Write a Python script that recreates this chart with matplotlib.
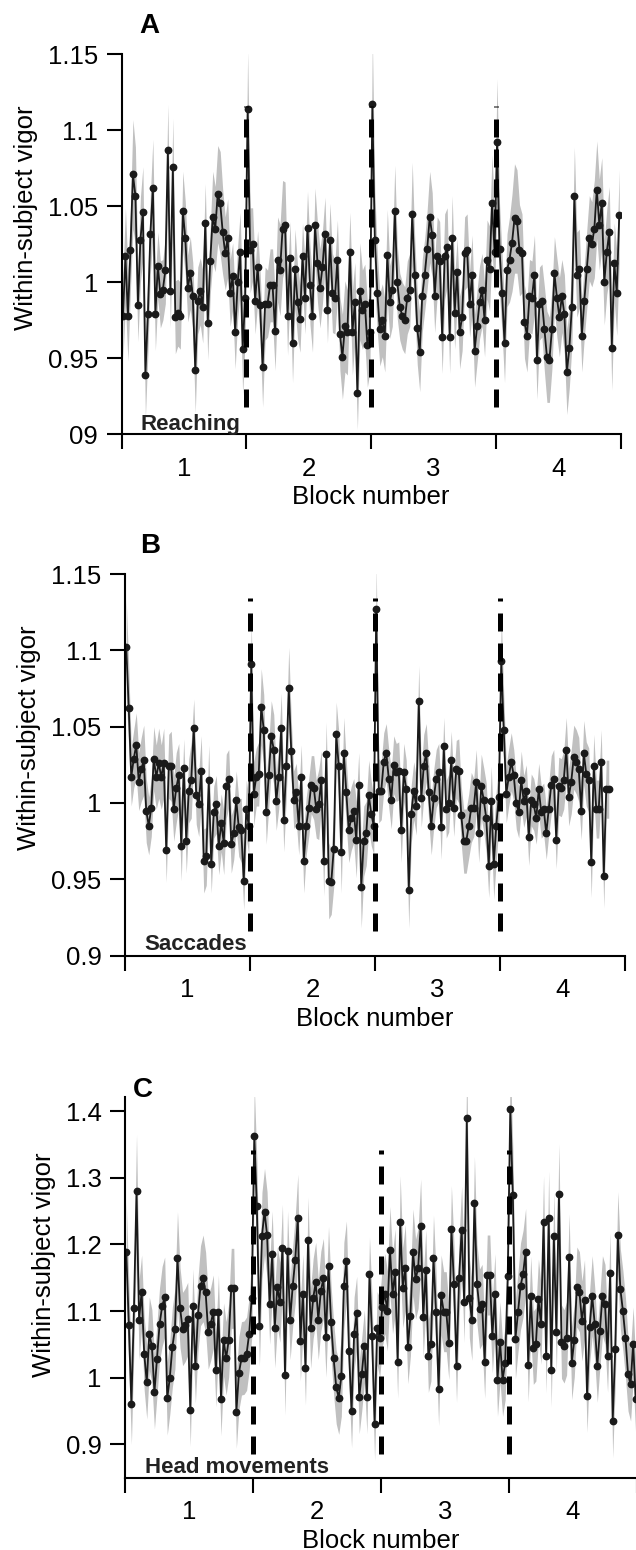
import matplotlib.pyplot as plt
import numpy as np

plt.rcParams['font.family'] = ['Liberation Sans', 'DejaVu Sans']

# vigor per trial, 50 trials per block
reach_vigor = [
    # block 1
    0.978, 1.017, 0.978, 1.021, 1.071, 1.057, 0.985, 1.028, 1.046, 0.939,
    0.979, 1.032, 1.062, 0.979, 1.011, 0.992, 0.995, 1.008, 1.087, 0.994,
    1.076, 0.977, 0.980, 0.978, 1.047, 1.029, 0.996, 1.006, 0.991, 0.942,
    0.988, 0.994, 0.984, 1.039, 0.973, 1.014, 1.043, 1.035, 1.058, 1.052,
    1.033, 1.019, 1.029, 0.993, 1.004, 0.967, 1.000, 1.020, 0.956, 0.990,
    # block 2
    1.114, 1.021, 1.025, 0.988, 1.010, 0.985, 0.944, 0.986, 0.986, 0.998,
    0.998, 0.968, 1.015, 1.008, 1.035, 1.038, 0.978, 1.016, 0.960, 1.009,
    0.987, 0.976, 1.017, 0.990, 1.036, 0.998, 0.978, 1.038, 1.013, 0.996,
    1.010, 1.032, 0.982, 1.028, 0.993, 0.990, 1.015, 0.966, 0.951, 0.971,
    0.967, 1.020, 0.967, 0.987, 0.927, 0.994, 0.982, 0.986, 0.959, 0.967,
    # block 3
    1.117, 1.028, 0.993, 0.969, 0.975, 0.965, 1.018, 0.987, 0.995, 1.047,
    1.000, 0.984, 0.978, 0.975, 0.990, 0.995, 1.045, 1.005, 0.970, 0.954,
    0.991, 1.005, 1.022, 1.043, 1.031, 0.991, 1.017, 1.014, 0.964, 1.017,
    1.023, 0.964, 1.029, 0.980, 1.007, 0.967, 0.977, 1.019, 1.021, 0.986,
    1.005, 0.955, 0.971, 0.987, 0.995, 0.975, 1.015, 1.009, 1.052, 1.020,
    # block 4
    1.092, 1.022, 0.993, 0.960, 1.008, 1.015, 1.026, 1.042, 1.040, 1.021,
    1.019, 0.974, 0.965, 0.991, 0.990, 1.005, 0.949, 0.986, 0.988, 0.969,
    0.951, 0.949, 0.969, 1.006, 0.990, 0.977, 0.991, 0.979, 0.941, 0.957,
    0.984, 1.057, 1.005, 1.009, 0.965, 0.988, 1.009, 1.029, 1.025, 1.035,
    1.061, 1.038, 1.052, 1.000, 1.020, 1.033, 0.957, 1.013, 0.993, 1.044,
]
# sem, in thousandths
reach_sem = [
    28, 32, 30, 26, 36, 32, 24, 28, 30, 28, 26, 26, 32, 24, 22, 22, 20, 22, 30, 24,
    32, 24, 22, 22, 26, 24, 22, 24, 22, 28, 22, 22, 24, 26, 24, 22, 30, 28, 32, 34,
    28, 24, 26, 22, 22, 24, 24, 26, 30, 28,
    38, 28, 24, 22, 24, 22, 26, 24, 22, 24, 24, 26, 28, 30, 32, 28, 26, 24, 26, 26,
    24, 22, 22, 24, 24, 26, 24, 24, 26, 26, 24, 24, 22, 24, 26, 24, 26, 24, 28, 30,
    28, 26, 28, 26, 24, 32, 26, 26, 28, 26,
    44, 32, 26, 24, 24, 24, 30, 24, 24, 30, 24, 22, 22, 22, 24, 24, 34, 24, 24, 26,
    24, 24, 26, 30, 28, 24, 26, 26, 24, 28, 26, 24, 28, 24, 22, 24, 22, 24, 24, 22,
    26, 24, 24, 24, 24, 24, 26, 28, 32, 26,
    42, 30, 26, 26, 24, 28, 32, 36, 34, 30, 26, 24, 24, 24, 24, 26, 26, 24, 24, 28,
    30, 28, 26, 24, 26, 26, 24, 26, 28, 26, 26, 32, 28, 26, 24, 24, 26, 28, 28, 32,
    32, 30, 30, 28, 28, 30, 28, 26, 28, 30,
]

sacc_vigor = [
    # block 1
    1.102, 1.062, 1.017, 1.029, 1.038, 1.014, 1.022, 1.028, 0.995, 0.985,
    0.997, 1.029, 1.017, 1.026, 1.017, 1.026, 0.969, 1.024, 1.024, 0.996,
    1.010, 1.018, 0.972, 1.023, 0.975, 1.008, 1.015, 1.049, 1.005, 0.999,
    1.021, 0.962, 0.965, 1.015, 0.960, 0.994, 0.999, 0.972, 0.987, 0.974,
    1.011, 1.016, 0.973, 0.980, 1.002, 0.984, 0.982, 0.949, 0.996, 0.985,
    # block 2
    1.091, 1.006, 1.017, 1.019, 1.063, 1.048, 0.994, 1.018, 1.044, 1.035,
    1.001, 1.017, 1.049, 0.989, 1.024, 1.075, 1.034, 1.002, 1.007, 0.985,
    1.017, 0.962, 0.985, 0.997, 1.012, 1.010, 0.996, 0.999, 1.015, 0.962,
    1.032, 0.949, 0.948, 0.970, 1.045, 1.024, 0.968, 1.033, 1.007, 0.982,
    0.990, 0.995, 0.976, 1.012, 0.945, 0.975, 0.980, 1.005, 0.993, 0.985,
    # block 3
    1.127, 1.008, 1.008, 1.027, 1.033, 1.016, 1.002, 1.025, 1.020, 1.021,
    0.982, 1.020, 1.009, 0.943, 0.993, 1.008, 0.998, 1.067, 1.003, 1.024,
    1.033, 1.007, 0.985, 1.003, 1.016, 1.020, 0.984, 1.037, 0.996, 1.000,
    1.028, 0.997, 1.022, 1.021, 0.992, 0.975, 0.975, 0.985, 0.997, 0.997,
    1.014, 0.980, 1.011, 1.002, 0.990, 0.959, 1.001, 0.960, 0.985, 1.004,
    # block 4 (shorter)
    1.093, 1.048, 1.006, 1.017, 1.027, 1.018, 1.000, 0.994, 1.015, 1.001,
    1.008, 0.978, 1.002, 0.999, 0.990, 1.009, 0.994, 0.996, 0.980, 0.996,
    1.012, 1.016, 0.976, 1.011, 1.010, 1.015, 1.035, 1.004, 1.014, 1.030,
    1.027, 1.022, 0.995, 1.033, 1.019, 1.015, 0.961, 1.024, 0.996, 0.996,
    1.027, 0.952, 1.009, 1.009,
]
sacc_sem = [
    31, 27, 19, 19, 21, 19, 21, 23, 21, 19, 19, 21, 21, 23, 21, 23, 21, 21, 23, 21,
    23, 21, 23, 19, 21, 21, 25, 19, 19, 21, 23, 21, 19, 23, 19, 17, 19, 19, 19, 21,
    21, 19, 19, 17, 19, 19, 21, 19, 19, 19,
    29, 21, 19, 21, 25, 23, 21, 21, 23, 23, 19, 21, 23, 21, 21, 27, 21, 19, 19, 19,
    21, 21, 19, 19, 19, 21, 19, 23, 19, 23, 21, 25, 21, 25, 21, 23, 27, 23, 21, 21,
    21, 21, 25, 21, 27, 23, 21, 23, 21, 19,
    29, 21, 19, 19, 19, 19, 19, 19, 19, 19, 21, 19, 19, 25, 19, 19, 19, 23, 19, 21,
    19, 19, 19, 19, 19, 19, 21, 19, 19, 19, 19, 19, 19, 21, 19, 21, 21, 21, 23, 19,
    21, 19, 21, 21, 23, 21, 23, 23, 23, 21,
    29, 23, 19, 19, 19, 17, 17, 17, 19, 17, 17, 19, 17, 17, 17, 17, 17, 17, 17, 17,
    19, 19, 19, 19, 19, 19, 21, 19, 21, 21, 21, 21, 19, 21, 21, 21, 23, 21, 19, 19,
    21, 21, 19, 19,
]

head_vigor = [
    # block 1
    1.188, 1.079, 0.960, 1.104, 1.280, 1.087, 1.129, 1.036, 0.993, 1.066,
    1.047, 0.978, 1.028, 1.080, 1.107, 1.121, 0.969, 1.000, 1.046, 1.073,
    1.179, 1.105, 1.073, 1.079, 1.088, 0.952, 1.108, 1.017, 1.094, 1.138,
    1.149, 1.128, 1.068, 1.081, 1.099, 1.011, 1.099, 0.968, 1.057, 1.029,
    1.056, 1.134, 1.134, 0.949, 1.007, 1.029, 1.030, 1.036, 1.066, 1.120,
    # block 2
    1.363, 1.258, 1.077, 1.213, 1.249, 1.214, 1.110, 1.185, 1.075, 1.136,
    1.113, 1.195, 1.004, 1.190, 1.087, 1.137, 1.177, 1.240, 1.055, 1.125,
    1.014, 1.206, 1.074, 1.119, 1.143, 1.087, 1.130, 1.149, 1.061, 1.167,
    1.083, 1.029, 0.986, 0.970, 1.002, 1.138, 1.175, 1.040, 0.950, 1.066,
    1.097, 0.971, 1.006, 1.047, 0.971, 1.156, 1.063, 0.931, 1.074, 1.060,
    # block 3
    1.106, 1.126, 1.100, 1.192, 1.126, 1.158, 1.024, 1.233, 1.135, 1.165,
    1.046, 1.093, 1.188, 1.148, 1.164, 1.228, 1.091, 1.162, 1.033, 1.050,
    1.179, 1.099, 0.983, 1.124, 1.099, 1.099, 1.052, 1.223, 1.141, 1.018,
    1.150, 1.222, 1.113, 1.389, 1.120, 1.086, 1.262, 1.140, 1.103, 1.110,
    1.024, 1.154, 1.154, 1.062, 1.126, 0.997, 1.054, 0.997, 1.022, 1.152,
    # block 4
    1.403, 1.274, 1.058, 1.098, 1.137, 1.156, 1.189, 1.019, 1.122, 1.045,
    1.050, 1.118, 1.080, 1.233, 1.032, 1.240, 1.011, 1.213, 1.069, 1.276,
    1.054, 1.047, 1.059, 1.181, 1.022, 1.056, 1.136, 1.129, 1.085, 1.117,
    0.973, 1.076, 1.123, 1.080, 1.018, 1.070, 1.123, 1.110, 1.033, 1.157,
    0.935, 1.043, 1.214, 1.133, 1.100, 1.060, 1.005, 0.990, 1.051, 0.968,
]
head_sem = [
    75, 65, 60, 60, 85, 60, 55, 55, 55, 55, 55, 55, 55, 55, 60, 60, 55, 55, 60, 60,
    70, 60, 55, 55, 55, 55, 55, 55, 55, 60, 65, 60, 55, 55, 55, 55, 55, 55, 55, 55,
    55, 60, 60, 55, 55, 55, 55, 55, 55, 60,
    75, 70, 60, 65, 65, 65, 60, 65, 60, 60, 60, 65, 60, 60, 60, 60, 65, 65, 60, 60,
    55, 65, 60, 60, 60, 60, 60, 60, 60, 60, 55, 55, 55, 55, 60, 65, 60, 55, 55, 55,
    55, 55, 55, 55, 55, 55, 60, 55, 55, 60,
    60, 60, 60, 65, 60, 65, 55, 70, 60, 65, 55, 60, 65, 60, 60, 70, 60, 60, 55, 55,
    65, 60, 55, 60, 60, 60, 55, 65, 60, 55, 60, 65, 60, 85, 60, 60, 70, 60, 60, 60,
    55, 60, 60, 55, 60, 55, 60, 55, 55, 60,
    75, 70, 60, 60, 65, 65, 65, 55, 60, 55, 55, 60, 60, 70, 55, 70, 55, 65, 60, 75,
    55, 55, 55, 65, 55, 55, 60, 60, 60, 60, 55, 55, 60, 55, 55, 55, 60, 60, 55, 60,
    55, 55, 65, 60, 60, 60, 55, 55, 55, 55,
]

block_edges = [0, 50, 100, 150, 200]
block_switches = [50, 100, 150]
block_centres = [25, 75, 125, 175]
block_labels = ['1', '2', '3', '4']

reach_yticks = [0.9, 0.95, 1.0, 1.05, 1.1, 1.15]
reach_yticklabels = ['09', '0.95', '1', '1.05', '1.1', '1.15']
sacc_yticks = [0.9, 0.95, 1.0, 1.05, 1.1, 1.15]
sacc_yticklabels = ['0.9', '0.95', '1', '1.05', '1.1', '1.15']
head_yticks = [0.9, 1.0, 1.1, 1.2, 1.3, 1.4]
head_yticklabels = ['0.9', '1', '1.1', '1.2', '1.3', '1.4']

# vertical extent of the dashed block separators
reach_dash = [0.918, 1.116]
sacc_dash = [0.916, 1.134]
head_dash = [0.886, 1.342]

W, H = 636, 1550
FS = 18.5


def add_ax(fig, left, top, right, bottom):
    return fig.add_axes([left / W, 1 - bottom / H, (right - left) / W, (bottom - top) / H])


def draw_panel(ax, vigor, sem, ylim, yticks, yticklabels, dash, label_y):
    v = np.array(vigor)
    s = np.array(sem) / 1000.0
    x = np.arange(len(v)) + 0.5
    ax.fill_between(x, v - s, v + s, color='#c0c0c0', lw=0, zorder=1)
    ax.plot(x, v, '-o', color='#1a1a1a', lw=1.3, ms=4.6, zorder=2)
    for b in block_switches:
        ax.plot([b, b], dash, color='k', lw=3.6, dashes=(3.6, 2.4),
                dash_capstyle='butt', zorder=3)
    ax.set_xlim(block_edges[0], block_edges[-1])
    ax.set_ylim(ylim)
    ax.spines['top'].set_visible(False)
    ax.spines['right'].set_visible(False)
    ax.spines['left'].set_linewidth(1.5)
    ax.spines['bottom'].set_linewidth(1.5)
    ax.set_yticks(yticks)
    ax.set_yticklabels(yticklabels)
    ax.tick_params(axis='y', length=11, width=1.5, pad=6, labelsize=FS)
    ax.set_xticks(block_edges)
    ax.set_xticklabels([])
    ax.set_xticks(block_centres, minor=True)
    ax.set_xticklabels(block_labels, minor=True)
    ax.tick_params(axis='x', which='major', length=11, width=1.5)
    ax.tick_params(axis='x', which='minor', length=0, pad=16, labelsize=FS)
    ax.set_xlabel('Block number', fontsize=FS, labelpad=3.5)
    ax.set_ylabel('Within-subject vigor', fontsize=FS, labelpad=7)
    ax.yaxis.label.set_y(label_y)


fig = plt.figure(figsize=(W / 100, H / 100), dpi=100)

ax1 = add_ax(fig, 121.7, 54.3, 620.5, 434.3)
draw_panel(ax1, reach_vigor, reach_sem, (0.9, 1.15), reach_yticks, reach_yticklabels, reach_dash, 0.57)
ax2 = add_ax(fig, 125, 574, 625, 955.6)
draw_panel(ax2, sacc_vigor, sacc_sem, (0.9, 1.15), sacc_yticks, sacc_yticklabels, sacc_dash, 0.57)
ax3 = add_ax(fig, 125, 1097, 637, 1477.7)
draw_panel(ax3, head_vigor, head_sem, (0.85, 1.421), head_yticks, head_yticklabels, head_dash, 0.56)

for letter, lx, ly in [('A', 139, 33), ('B', 140, 553), ('C', 133, 1097)]:
    fig.text(lx / W, 1 - ly / H, letter, fontsize=20, fontweight='bold', va='baseline')

for name, tx, ty in [('Reaching', 141, 430), ('Saccades', 144, 950), ('Head movements', 145, 1473)]:
    fig.text(tx / W, 1 - ty / H, name, fontsize=16, fontweight='bold', va='baseline', color='#222222')

fig.savefig('out.png', dpi=100)
